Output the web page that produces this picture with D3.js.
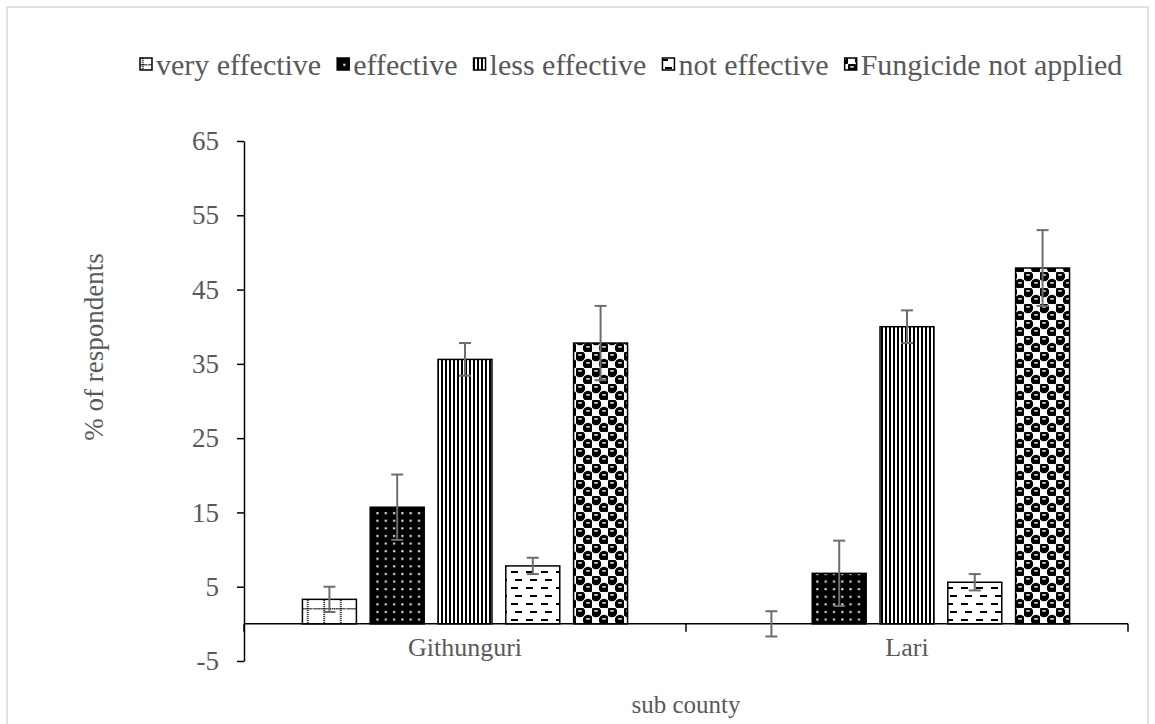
<!DOCTYPE html>
<meta charset="utf-8">
<script src="https://d3js.org/d3.v7.min.js"></script>
<style>
  body { margin: 0; background: #fff; }
  text { font-family: 'Liberation Serif', 'Times New Roman', serif; fill: #595959; }
</style>
<div id="chart"></div>
<script>

var categories = ["Githunguri", "Lari"];
var seriesNames = ["very effective", "effective", "less effective", "not effective", "Fungicide not applied"];
var veryEffective = [3.3, 0];
var effective = [15.7, 6.8];
var lessEffective = [35.6, 40.0];
var notEffective = [7.8, 5.6];
var notApplied = [37.8, 47.9];
var veryEffectiveErr = [1.7, 1.7];
var effectiveErr = [4.4, 4.4];
var lessEffectiveErr = [2.2, 2.2];
var notEffectiveErr = [1.1, 1.1];
var notAppliedErr = [5.0, 5.1];
var yTicks = [-5, 5, 15, 25, 35, 45, 55, 65];

var values = [veryEffective, effective, lessEffective, notEffective, notApplied];
var errors = [veryEffectiveErr, effectiveErr, lessEffectiveErr, notEffectiveErr, notAppliedErr];

var W = 1155, H = 724;
var font = "'Liberation Serif', 'Times New Roman', serif";

var svg = d3.select("#chart").append("svg")
    .attr("width", W).attr("height", H);

// outer frame
svg.append("rect")
    .attr("x", 7).attr("y", 7).attr("width", 1141).attr("height", 730)
    .attr("fill", "none").attr("stroke", "#d9d9d9").attr("stroke-width", 1.5);

// patterns
var defs = svg.append("defs");
var p0 = defs.append("pattern").attr("id", "pat0").attr("patternUnits", "userSpaceOnUse")
    .attr("width", 16.5).attr("height", 16).attr("y", 8);
p0.append("rect").attr("width", 16.5).attr("height", 16).attr("fill", "#fff");
for (var i = 0; i < 8; i++) {
  p0.append("rect").attr("x", i * 2).attr("y", 8).attr("width", 1.2).attr("height", 1.5).attr("fill", "#000");
}
for (var j = 0; j < 8; j++) {
  p0.append("rect").attr("x", 10).attr("y", j * 2).attr("width", 1.5).attr("height", 1.2).attr("fill", "#000");
}

var p1 = defs.append("pattern").attr("id", "pat1").attr("patternUnits", "userSpaceOnUse")
    .attr("width", 8.3).attr("height", 7.6);
p1.append("rect").attr("width", 8.3).attr("height", 7.6).attr("fill", "#000");
p1.append("rect").attr("x", 3).attr("y", 3).attr("width", 2).attr("height", 2).attr("fill", "#fff");

var p2 = defs.append("pattern").attr("id", "pat2").attr("patternUnits", "userSpaceOnUse")
    .attr("width", 4).attr("height", 4);
p2.append("rect").attr("width", 4).attr("height", 4).attr("fill", "#fff");
p2.append("rect").attr("x", 1).attr("width", 2).attr("height", 4).attr("fill", "#000");

var p3 = defs.append("pattern").attr("id", "pat3").attr("patternUnits", "userSpaceOnUse")
    .attr("width", 15).attr("height", 16);
p3.append("rect").attr("width", 15).attr("height", 16).attr("fill", "#fff");
p3.append("rect").attr("x", 5).attr("y", 3).attr("width", 7).attr("height", 2).attr("fill", "#000");
p3.append("rect").attr("x", 1).attr("y", 11).attr("width", 7).attr("height", 2).attr("fill", "#000");

var p4 = defs.append("pattern").attr("id", "pat4").attr("patternUnits", "userSpaceOnUse")
    .attr("width", 16).attr("height", 16);
p4.append("rect").attr("width", 16).attr("height", 16).attr("fill", "#fff");
[[4, 4], [12, 12]].forEach(function(c) {
  p4.append("circle").attr("cx", c[0]).attr("cy", c[1]).attr("r", 5.2).attr("fill", "#000");
  p4.append("rect").attr("x", c[0] - 1.8).attr("y", c[1] - 1.8).attr("width", 3.6).attr("height", 1.4).attr("fill", "#fff");
});

var fills = ["url(#pat0)", "url(#pat1)", "url(#pat2)", "url(#pat3)", "url(#pat4)"];

// scales
var y = d3.scaleLinear().domain([-5, 65]).range([661, 141]);
var x0 = d3.scaleBand().domain(categories).range([244, 1128]).paddingInner(0).paddingOuter(0);
var x1 = d3.scaleBand().domain(seriesNames).range([0, x0.bandwidth()])
    .paddingInner(0.204).paddingOuter(0.862);

// y axis
var yAxis = svg.append("g")
    .attr("transform", "translate(244,0)")
    .call(d3.axisLeft(y).tickValues(yTicks).tickSize(7).tickSizeOuter(0).tickPadding(18)
      .tickFormat(function(d) { return String(d); }));
yAxis.select(".domain").attr("stroke", "#000").attr("stroke-width", 1.5);
yAxis.selectAll(".tick line").attr("stroke", "#000").attr("stroke-width", 1.5);
yAxis.selectAll(".tick text")
    .style("font-family", font).style("font-size", "27px").attr("fill", "#595959");

// bars
var rows = [];
seriesNames.forEach(function(s, si) {
  categories.forEach(function(c, ci) {
    rows.push({ s: s, si: si, c: c, v: values[si][ci], e: errors[si][ci] });
  });
});

svg.append("g").selectAll("rect")
  .data(rows.filter(function(d) { return d.v > 0; }))
  .enter().append("rect")
    .attr("x", function(d) { return x0(d.c) + x1(d.s); })
    .attr("y", function(d) { return y(d.v); })
    .attr("width", x1.bandwidth())
    .attr("height", function(d) { return y(0) - y(d.v); })
    .attr("fill", function(d) { return fills[d.si]; })
    .attr("stroke", "#000").attr("stroke-width", 1.5);

// x axis line at zero
svg.append("line")
    .attr("x1", 244).attr("x2", 1128).attr("y1", y(0)).attr("y2", y(0))
    .attr("stroke", "#000").attr("stroke-width", 1.5);
svg.append("g").selectAll("line")
  .data([244, 244 + x0.bandwidth(), 1128])
  .enter().append("line")
    .attr("x1", function(d) { return d; }).attr("x2", function(d) { return d; })
    .attr("y1", y(0)).attr("y2", y(0) + 8)
    .attr("stroke", "#000").attr("stroke-width", 1.5);

svg.append("g").selectAll("text")
  .data(categories)
  .enter().append("text")
    .attr("x", function(d) { return x0(d) + x0.bandwidth() / 2; })
    .attr("y", 656)
    .attr("text-anchor", "middle")
    .style("font-family", font).style("font-size", "26px")
    .text(function(d) { return d; });

// error bars
var eb = svg.append("g").selectAll("g")
  .data(rows)
  .enter().append("g")
    .attr("stroke", "#6d6d6d").attr("stroke-width", 2);
eb.append("line")
    .attr("x1", function(d) { return x0(d.c) + x1(d.s) + x1.bandwidth() / 2; })
    .attr("x2", function(d) { return x0(d.c) + x1(d.s) + x1.bandwidth() / 2; })
    .attr("y1", function(d) { return y(d.v + d.e); })
    .attr("y2", function(d) { return y(d.v - d.e); });
eb.append("line")
    .attr("x1", function(d) { return x0(d.c) + x1(d.s) + x1.bandwidth() / 2 - 6; })
    .attr("x2", function(d) { return x0(d.c) + x1(d.s) + x1.bandwidth() / 2 + 6; })
    .attr("y1", function(d) { return y(d.v + d.e); })
    .attr("y2", function(d) { return y(d.v + d.e); });
eb.append("line")
    .attr("x1", function(d) { return x0(d.c) + x1(d.s) + x1.bandwidth() / 2 - 6; })
    .attr("x2", function(d) { return x0(d.c) + x1(d.s) + x1.bandwidth() / 2 + 6; })
    .attr("y1", function(d) { return y(d.v - d.e); })
    .attr("y2", function(d) { return y(d.v - d.e); });

// axis titles
svg.append("text")
    .attr("transform", "translate(103,347) rotate(-90)")
    .attr("text-anchor", "middle")
    .style("font-family", font).style("font-size", "27px")
    .text("% of respondents");

svg.append("text")
    .attr("x", 686).attr("y", 713)
    .attr("text-anchor", "middle")
    .style("font-family", font).style("font-size", "25px")
    .text("sub county");

// legend
var lx = 140;
var legend = svg.append("g");
seriesNames.forEach(function(s, i) {
  legend.append("rect")
      .attr("x", lx).attr("y", 58).attr("width", 12).attr("height", 12)
      .attr("fill", fills[i]).attr("stroke", "#000").attr("stroke-width", 1.5);
  var t = legend.append("text")
      .attr("x", lx + 16).attr("y", 75)
      .style("font-family", font).style("font-size", "30px")
      .text(s);
  lx += 16 + t.node().getComputedTextLength() + 16;
});

</script>
